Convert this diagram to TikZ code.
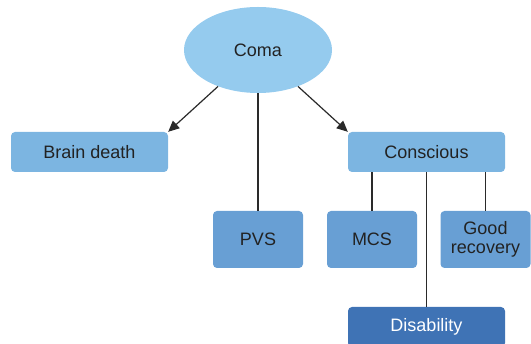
\documentclass[tikz,border=0pt]{standalone}
\usepackage{fontspec}
\setmainfont{Liberation Sans}
\usetikzlibrary{shapes.geometric,arrows.meta}
\definecolor{ellc}{HTML}{95CBEE}
\definecolor{lightbox}{HTML}{7CB5E1}
\definecolor{midbox}{HTML}{689FD4}
\definecolor{darkbox}{HTML}{3F73B5}
\definecolor{txt}{HTML}{222222}
\definecolor{linec}{HTML}{2A2A2A}
\tikzset{
  base/.style={draw=none, text=txt, font=\fontsize{18}{21}\selectfont, inner sep=0pt, align=center},
  ellnode/.style={base, ellipse, fill=ellc, minimum width=148pt, minimum height=86pt},
  widebox/.style={base, rectangle, rounded corners=4pt, fill=lightbox, minimum width=157pt, minimum height=40pt},
  smallbox/.style={base, rectangle, rounded corners=4pt, fill=midbox, minimum width=90pt, minimum height=57pt},
  darkwide/.style={base, rectangle, rounded corners=4pt, fill=darkbox, text=white, minimum width=157pt, minimum height=40pt},
  conn/.style={draw=linec, line width=1.2pt},
  arr/.style={conn, -{Triangle[length=11pt,width=10pt]}}
}
\begin{document}
\begin{tikzpicture}[x=1pt,y=-1pt]
\useasboundingbox (0,0) rectangle (531,344);
\clip (0,0) rectangle (531,344);
\node[ellnode] (coma) at (258,50) {Coma};
\node[widebox] (bd) at (89.5,152) {Brain death};
\node[widebox] (cons) at (426.5,152) {Conscious};
\node[smallbox] (pvs) at (258,239.5) {PVS};
\node[smallbox] (mcs) at (372,239.5) {MCS};
\node[smallbox] (gr) at (485.5,239.5) {Good\\[-2pt]recovery};
\node[darkwide] (dis) at (426.5,327) {Disability};
\draw[arr] (coma) -- (bd.north east);
\draw[arr] (coma) -- (cons.north west);
\draw[conn] (coma.south) -- (pvs.north);
\draw[conn] (mcs.north) -- (mcs.north |- cons.south);
\draw[conn] (dis.north) -- (cons.south);
\draw[conn] (gr.north) -- (gr.north |- cons.south);
\end{tikzpicture}
\end{document}
